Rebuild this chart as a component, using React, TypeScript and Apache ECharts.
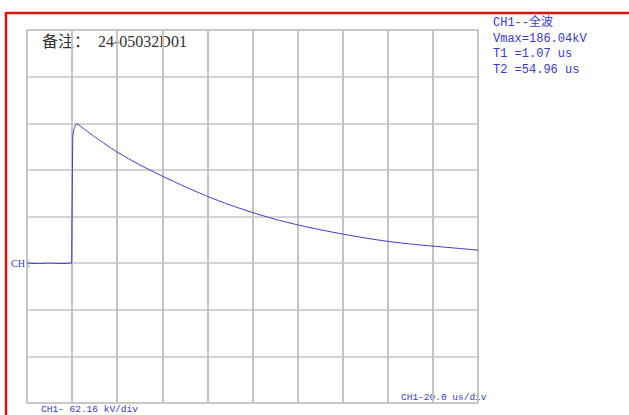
import React, { useEffect, useRef } from "react";
import * as echarts from "echarts";

// time in microseconds, voltage in kV
const timeUs = [-20, -15, -10, -5, -0.2, 0, 0.3, 0.8, 1.4, 2.0, 5, 10, 15, 20, 30, 40, 50, 60, 70, 80, 90, 100, 110, 120, 130, 140, 150, 160, 170, 180];
const voltageKv = [0, -0.5, 0, -0.5, 0, 0, 168, 178, 183, 186.04, 179.5, 168.5, 158, 148, 131, 116, 102, 89, 77.5, 67.5, 58.5, 51, 44.5, 38.7, 33.5, 29, 25.5, 22.7, 20, 17.3];

const KV_PER_DIV = 62.16;
const US_PER_DIV = 20;
const xTicks = [-20, 180];
const yDivs = [-3, 5];

const remark = "备注：  24-05032D01";
const infoLines = ["CH1--全波", "Vmax=186.04kV", "T1 =1.07 us", "T2 =54.96 us"];
const chLabel = "CH1";
const xScaleLabel = "CH1-20.0 us/div";
const yScaleLabel = "CH1- 62.16 kV/div";

export default function App() {
  const ref = useRef<HTMLDivElement>(null);
  useEffect(() => {
    const chart = echarts.init(ref.current!, null, { renderer: "svg" });
    const data = timeUs.map((t, i) => [t, voltageKv[i] / KV_PER_DIV]);
    const blue = "#3a3ac4";
    const mono = "'Liberation Mono', 'Noto Sans CJK SC', monospace";
    chart.setOption({
      animation: false,
      backgroundColor: "#ffffff",
      grid: { left: 27, top: 30, right: 151, bottom: 12, show: true, borderColor: "#c4c4c4", borderWidth: 1.5 },
      xAxis: {
        type: "value",
        min: xTicks[0],
        max: xTicks[1],
        interval: US_PER_DIV,
        axisLine: { show: false },
        axisTick: { show: false },
        axisLabel: { show: false },
        splitLine: { show: true, lineStyle: { color: "#c4c4c4", width: 2 } },
      },
      yAxis: {
        type: "value",
        min: yDivs[0],
        max: yDivs[1],
        interval: 1,
        axisLine: { show: false },
        axisTick: { show: false },
        axisLabel: { show: false },
        splitLine: { show: true, lineStyle: { color: "#c4c4c4", width: 1.5 } },
      },
      series: [
        {
          type: "line",
          data,
          showSymbol: false,
          smooth: 0.15,
          lineStyle: { color: blue, width: 1 },
          z: 5,
        },
      ],
      graphic: [
        { type: "line", shape: { x1: 6, y1: 13, x2: 629, y2: 13 }, style: { stroke: "#e01010", lineWidth: 2.5 } },
        { type: "line", shape: { x1: 6, y1: 12, x2: 6, y2: 415 }, style: { stroke: "#e01010", lineWidth: 2.5 } },
        {
          type: "text",
          left: 42,
          top: 33,
          style: { text: remark, fontSize: 16, fill: "#333333", fontFamily: "'Liberation Serif', 'Noto Sans CJK SC', serif" },
        },
        ...infoLines.map((s, i) => ({
          type: "text",
          left: 493,
          top: 17 + i * 15.5,
          style: { text: s, fontSize: 12, fill: blue, fontFamily: mono },
        })),
        { type: "text", left: 11, top: 258, style: { text: chLabel, fontSize: 10, fill: blue, fontFamily: "'Liberation Serif', serif" } },
        { type: "text", left: 401, top: 393, style: { text: xScaleLabel, fontSize: 9.5, fill: blue, fontFamily: mono } },
        { type: "text", left: 41, top: 405, style: { text: yScaleLabel, fontSize: 9.5, fill: blue, fontFamily: mono } },
      ],
    });
    return () => chart.dispose();
  }, []);
  return <div ref={ref} style={{ position: "fixed", left: 0, top: 0, width: 629, height: 415 }} />;
}
